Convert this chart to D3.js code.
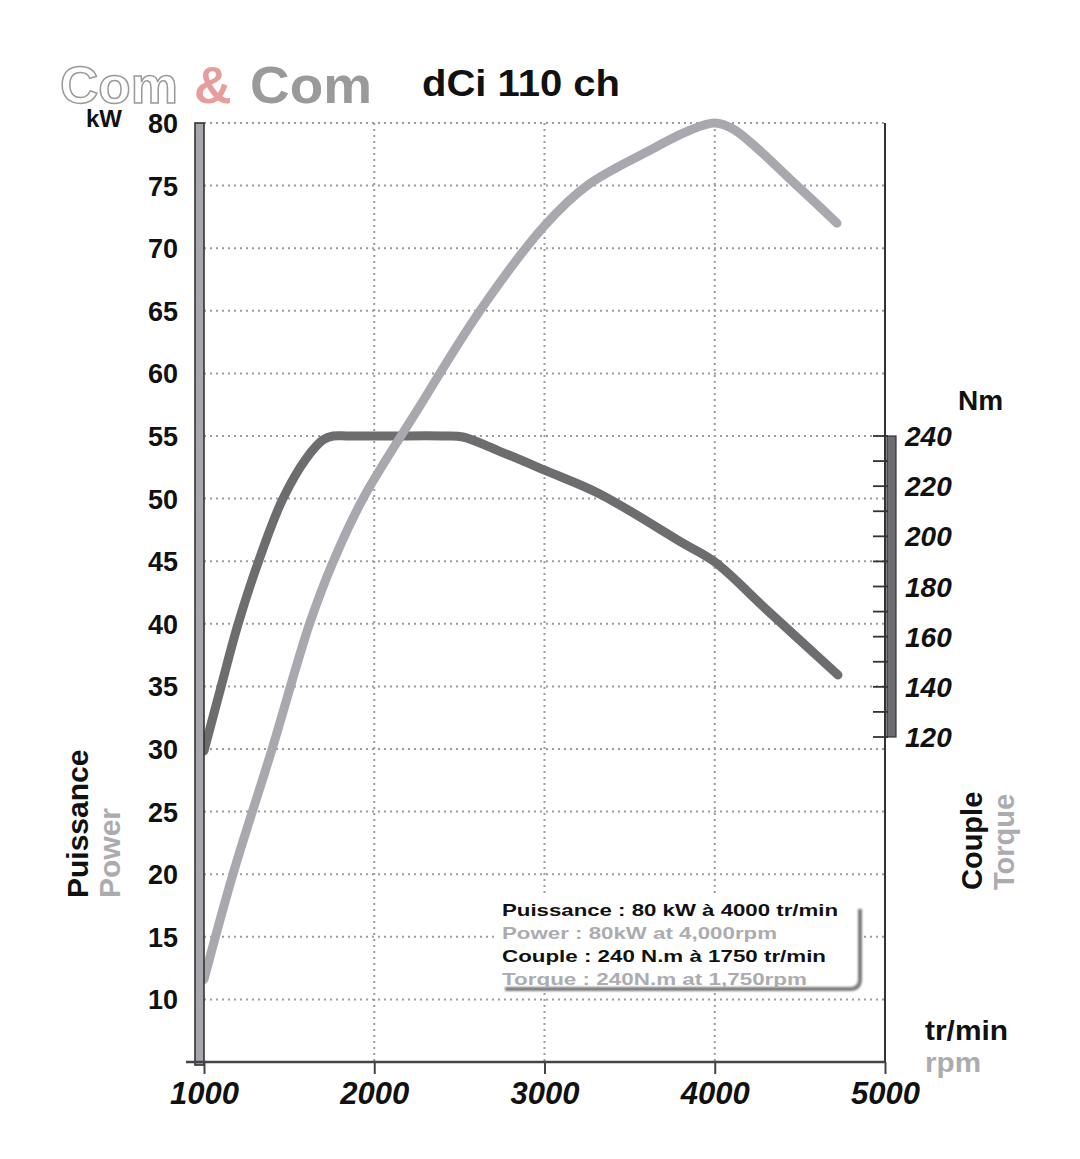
<!DOCTYPE html>
<html><head><meta charset="utf-8">
<script src="https://cdn.jsdelivr.net/npm/d3@7"></script>
<style>
body{margin:0;background:#fff;}
svg{display:block;font-family:"Liberation Sans",Arial,sans-serif;}
</style></head>
<body>
<svg id="chart" width="1080" height="1159"></svg>
<script>
// ---- data ----
const rpmTicks = [1000, 2000, 3000, 4000, 5000];
const kwTicks = [10, 15, 20, 25, 30, 35, 40, 45, 50, 55, 60, 65, 70, 75, 80];
const nmLabelTicks = [120, 140, 160, 180, 200, 220, 240];
const nmMinorTicks = [120, 130, 140, 150, 160, 170, 180, 190, 200, 210, 220, 230, 240];
const powerRpm = [1000, 1170, 1400, 1620, 1760, 1934, 2250, 2621, 3000, 3250, 3602, 3850, 4000, 4110, 4483, 4718];
const powerKw  = [11.6, 20, 30, 40, 45, 50, 57, 65, 71.8, 75, 77.7, 79.4, 80, 79.5, 75, 72];
const torqueRpm = [1000, 1100, 1200, 1320, 1460, 1600, 1700, 1758, 1850, 2100, 2400, 2521, 2733, 3000, 3322, 3813, 4000, 4307, 4724];
const torqueNm  = [114.5, 140, 165, 190, 214.5, 231, 238.5, 240, 240, 240, 240, 239.6, 234, 226.4, 217, 197.3, 189.8, 170.6, 144.7];
const legendLines = [
  "Puissance : 80 kW à 4000 tr/min",
  "Power : 80kW at 4,000rpm",
  "Couple : 240 N.m à 1750 tr/min",
  "Torque : 240N.m at 1,750rpm"
];

const svg = d3.select("#chart");
const x = d3.scaleLinear().domain([1000, 5000]).range([204, 885]);
const yP = d3.scaleLinear().domain([5, 80]).range([1062, 123]);
const yT = d3.scaleLinear().domain([120, 240]).range([737, 436]);

// ---- grid ----
const grid = svg.append("g").attr("stroke", "#9c9c9c").attr("stroke-width", 2).attr("stroke-dasharray", "2,4");
grid.selectAll("line.h").data(kwTicks).join("line").attr("class", "h")
  .attr("x1", x(1000)).attr("x2", x(5000)).attr("y1", d => yP(d)).attr("y2", d => yP(d));
grid.selectAll("line.v").data(rpmTicks.slice(1, 4)).join("line").attr("class", "v")
  .attr("x1", d => x(d)).attr("x2", d => x(d)).attr("y1", yP(80)).attr("y2", yP(5));

// ---- legend box (white, with shadow) ----
const defs = svg.append("defs");
defs.append("filter").attr("id", "blur").append("feGaussianBlur").attr("stdDeviation", 0.8);
svg.append("rect").attr("x", 497).attr("y", 896).attr("width", 366).attr("height", 95).attr("fill", "#fff");
svg.append("path").attr("d", "M860,909 L860,979 Q860,989 850,989 L505,989")
  .attr("fill", "none").attr("stroke", "#7a7a7a").attr("stroke-width", 4).attr("filter", "url(#blur)");
const legendColors = ["#111", "#acacb0", "#111", "#acacb0"];
const legendWidths = [336, 275, 324, 305];
svg.selectAll("text.leg").data(legendLines).join("text").attr("class", "leg")
  .attr("x", 502).attr("y", (d, i) => 916 + i * 23)
  .attr("font-size", 17).attr("font-weight", "bold")
  .attr("fill", (d, i) => legendColors[i])
  .attr("textLength", (d, i) => legendWidths[i]).attr("lengthAdjust", "spacingAndGlyphs")
  .text(d => d);

// ---- curves ----
const powerData = powerRpm.map((r, i) => [r, powerKw[i]]);
const torqueData = torqueRpm.map((r, i) => [r, torqueNm[i]]);
svg.append("path").datum(torqueData)
  .attr("d", d3.line().x(d => x(d[0])).y(d => yT(d[1])).curve(d3.curveCatmullRom.alpha(0.5)))
  .attr("fill", "none").attr("stroke", "#6d6d6f").attr("stroke-width", 9)
  .attr("stroke-linecap", "round").attr("stroke-linejoin", "round");
svg.append("path").datum(powerData)
  .attr("d", d3.line().x(d => x(d[0])).y(d => yP(d[1])).curve(d3.curveCatmullRom.alpha(0.5)))
  .attr("fill", "none").attr("stroke", "#a9a8af").attr("stroke-width", 9)
  .attr("stroke-linecap", "round").attr("stroke-linejoin", "round");

// ---- left bar axis ----
svg.append("rect").attr("x", 195).attr("y", yP(80)).attr("width", 9).attr("height", yP(5) - yP(80) + 3)
  .attr("fill", "#a8a7ae").attr("stroke", "#333").attr("stroke-width", 1.6);
svg.selectAll("text.kw").data(kwTicks).join("text").attr("class", "kw")
  .attr("x", 178).attr("y", d => yP(d) + 10).attr("text-anchor", "end")
  .attr("font-size", 27).attr("font-weight", "bold").attr("fill", "#111")
  .text(d => d);
svg.append("text").attr("x", 86).attr("y", 127).attr("font-size", 24).attr("font-weight", "bold")
  .attr("fill", "#111").text("kW");

// ---- x axis ----
svg.append("line").attr("x1", 186).attr("x2", x(5000)).attr("y1", yP(5)).attr("y2", yP(5))
  .attr("stroke", "#444").attr("stroke-width", 2.5);
const xAxis = svg.append("g").attr("transform", `translate(0,${yP(5)})`)
  .call(d3.axisBottom(x).tickValues(rpmTicks).tickSize(12).tickPadding(8).tickFormat(d3.format("d")));
xAxis.select(".domain").remove();
xAxis.selectAll(".tick line").attr("stroke", "#444").attr("stroke-width", 2);
xAxis.selectAll(".tick text").attr("font-size", 31).attr("font-weight", "bold").attr("font-style", "italic")
  .attr("fill", "#111").attr("font-family", "'Liberation Sans',Arial,sans-serif");

// ---- right axis ----
svg.append("line").attr("x1", x(5000)).attr("x2", x(5000)).attr("y1", yP(80)).attr("y2", yP(5))
  .attr("stroke", "#333").attr("stroke-width", 2);
svg.append("rect").attr("x", 887).attr("y", yT(240)).attr("width", 9).attr("height", yT(120) - yT(240))
  .attr("fill", "#6e6e72").attr("stroke", "#333").attr("stroke-width", 1.2);
svg.selectAll("line.nm").data(nmMinorTicks).join("line").attr("class", "nm")
  .attr("x1", 873).attr("x2", 888).attr("y1", d => yT(d)).attr("y2", d => yT(d))
  .attr("stroke", "#333").attr("stroke-width", 1.8);
svg.selectAll("text.nm").data(nmLabelTicks).join("text").attr("class", "nm")
  .attr("x", 905).attr("y", d => yT(d) + 10)
  .attr("font-size", 28).attr("font-weight", "bold").attr("font-style", "italic").attr("fill", "#111")
  .text(d => d);
svg.append("text").attr("x", 958).attr("y", 410).attr("font-size", 28).attr("font-weight", "bold")
  .attr("fill", "#111").text("Nm");

// ---- unit labels ----
svg.append("text").attr("x", 925).attr("y", 1040).attr("font-size", 28).attr("font-weight", "bold")
  .attr("fill", "#111").attr("textLength", 83).attr("lengthAdjust", "spacingAndGlyphs").text("tr/min");
svg.append("text").attr("x", 925).attr("y", 1072).attr("font-size", 28).attr("font-weight", "bold")
  .attr("fill", "#acacb0").attr("textLength", 56).attr("lengthAdjust", "spacingAndGlyphs").text("rpm");

// ---- rotated titles ----
function vtext(tx, ty, txt, col, size) {
  svg.append("text").attr("transform", `translate(${tx},${ty}) rotate(-90)`)
    .attr("font-size", size).attr("font-weight", "bold").attr("fill", col).text(txt);
}
vtext(88, 898, "Puissance", "#111", 30);
vtext(120, 898, "Power", "#acacb0", 30);
vtext(982, 890, "Couple", "#111", 29);
vtext(1014, 890, "Torque", "#acacb0", 29);

// ---- title ----
svg.append("text").attr("x", 60).attr("y", 103).attr("font-size", 52).attr("font-weight", "bold")
  .attr("fill", "#fff").attr("stroke", "#9a9a9a").attr("stroke-width", 1.5)
  .attr("textLength", 118).attr("lengthAdjust", "spacingAndGlyphs").text("Com");
svg.append("text").attr("x", 194).attr("y", 103).attr("font-size", 52).attr("font-weight", "bold")
  .attr("fill", "#e89d9d").text("&");
svg.append("text").attr("x", 250).attr("y", 103).attr("font-size", 52).attr("font-weight", "bold")
  .attr("fill", "#9a9a9a").attr("textLength", 122).attr("lengthAdjust", "spacingAndGlyphs").text("Com");
svg.append("text").attr("x", 422).attr("y", 96).attr("font-size", 36).attr("font-weight", "bold")
  .attr("fill", "#111").attr("textLength", 198).attr("lengthAdjust", "spacingAndGlyphs").text("dCi 110 ch");
</script>
</body></html>
